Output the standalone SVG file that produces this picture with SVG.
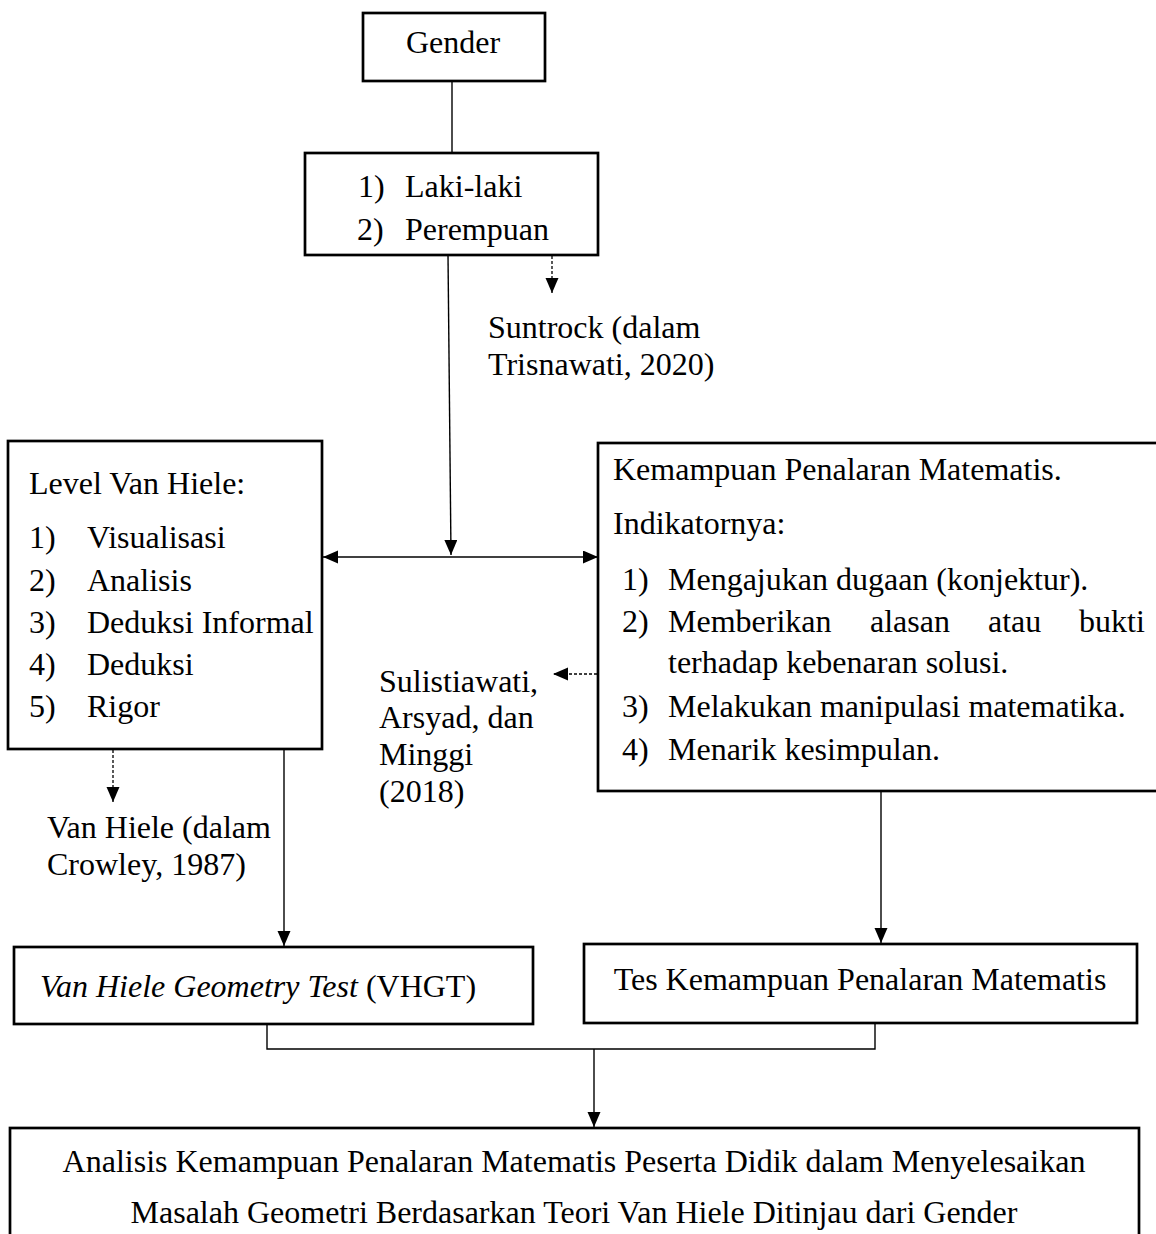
<svg xmlns="http://www.w3.org/2000/svg" width="1156" height="1234" viewBox="0 0 1156 1234">
<defs>
<style>
text{font-family:"Liberation Serif","Times New Roman",serif;font-size:32px;fill:#000}
.box{fill:#fff;stroke:#000;stroke-width:2.7}
.ln{fill:none;stroke:#000;stroke-width:1.4}
.dash{fill:none;stroke:#000;stroke-width:1.3;stroke-dasharray:3 2}
.it{font-style:italic}
</style>
<marker id="ah" markerUnits="userSpaceOnUse" markerWidth="16" markerHeight="14" refX="15" refY="6.5" orient="auto-start-reverse" viewBox="0 0 16 14">
<path d="M0,0 L15,6.5 L0,13 z" fill="#000"/>
</marker>
</defs>
<rect width="1156" height="1234" fill="#fff"/>

<g id="connectors">
<line class="ln" x1="452" y1="81" x2="452" y2="153"/>
<line class="ln" x1="448" y1="255" x2="451" y2="555" marker-end="url(#ah)"/>
<line class="dash" x1="552" y1="256" x2="552" y2="293" marker-end="url(#ah)"/>
<line class="ln" x1="323" y1="557" x2="598" y2="557" marker-start="url(#ah)" marker-end="url(#ah)"/>
<line class="dash" x1="597" y1="674" x2="553" y2="674" marker-end="url(#ah)"/>
<line class="dash" x1="113" y1="750" x2="113" y2="802" marker-end="url(#ah)"/>
<line class="ln" x1="284" y1="750" x2="284" y2="946" marker-end="url(#ah)"/>
<line class="ln" x1="881" y1="792" x2="881" y2="943" marker-end="url(#ah)"/>
<polyline class="ln" points="267,1018 267,1049 875,1049 875,1024"/>
<line class="ln" x1="594" y1="1049" x2="594" y2="1127" marker-end="url(#ah)"/>
</g>

<g id="gender">
<rect class="box" x="363" y="13" width="182" height="68"/>
<text x="453" y="53" text-anchor="middle">Gender</text>
</g>

<g id="jenis-kelamin">
<rect class="box" x="305" y="153" width="293" height="102"/>
<text x="358" y="197">1)</text>
<text x="405" y="197">Laki-laki</text>
<text x="357" y="240">2)</text>
<text x="405" y="240">Perempuan</text>
</g>

<g id="ref-suntrock">
<text x="488" y="338">Suntrock (dalam</text>
<text x="488" y="375">Trisnawati, 2020)</text>
</g>

<g id="level-van-hiele">
<rect class="box" x="8" y="441" width="314" height="308"/>
<text x="29" y="494">Level Van Hiele:</text>
<text x="29" y="548">1)</text><text x="87" y="548">Visualisasi</text>
<text x="29" y="591">2)</text><text x="87" y="591">Analisis</text>
<text x="29" y="633">3)</text><text x="87" y="633">Deduksi Informal</text>
<text x="29" y="675">4)</text><text x="87" y="675">Deduksi</text>
<text x="29" y="717">5)</text><text x="87" y="717">Rigor</text>
</g>

<g id="kemampuan-penalaran">
<rect class="box" x="598" y="443" width="562" height="348"/>
<text x="613" y="480">Kemampuan Penalaran Matematis.</text>
<text x="613" y="534">Indikatornya:</text>
<text x="622" y="590">1)</text><text x="668" y="590">Mengajukan dugaan (konjektur).</text>
<text x="622" y="632">2)</text><text x="668" y="632">Memberikan</text><text x="870" y="632">alasan</text><text x="988" y="632">atau</text><text x="1079" y="632">bukti</text>
<text x="668" y="673">terhadap kebenaran solusi.</text>
<text x="622" y="717">3)</text><text x="668" y="717">Melakukan manipulasi matematika.</text>
<text x="622" y="760">4)</text><text x="668" y="760">Menarik kesimpulan.</text>
</g>

<g id="ref-sulistiawati">
<text x="379" y="692">Sulistiawati,</text>
<text x="379" y="728">Arsyad, dan</text>
<text x="379" y="765">Minggi</text>
<text x="379" y="802">(2018)</text>
</g>

<g id="ref-van-hiele">
<text x="47" y="838">Van Hiele (dalam</text>
<text x="47" y="875">Crowley, 1987)</text>
</g>

<g id="vhgt">
<rect class="box" x="14" y="947" width="519" height="77"/>
<text x="40" y="997"><tspan class="it">Van Hiele Geometry Test</tspan> (VHGT)</text>
</g>

<g id="tes-kemampuan">
<rect class="box" x="584" y="944" width="553" height="79"/>
<text x="860" y="990" text-anchor="middle">Tes Kemampuan Penalaran Matematis</text>
</g>

<g id="analisis">
<rect class="box" x="10" y="1128" width="1129" height="120"/>
<text x="574" y="1172" text-anchor="middle">Analisis Kemampuan Penalaran Matematis Peserta Didik dalam Menyelesaikan</text>
<text x="574" y="1223" text-anchor="middle">Masalah Geometri Berdasarkan Teori Van Hiele Ditinjau dari Gender</text>
</g>
</svg>
